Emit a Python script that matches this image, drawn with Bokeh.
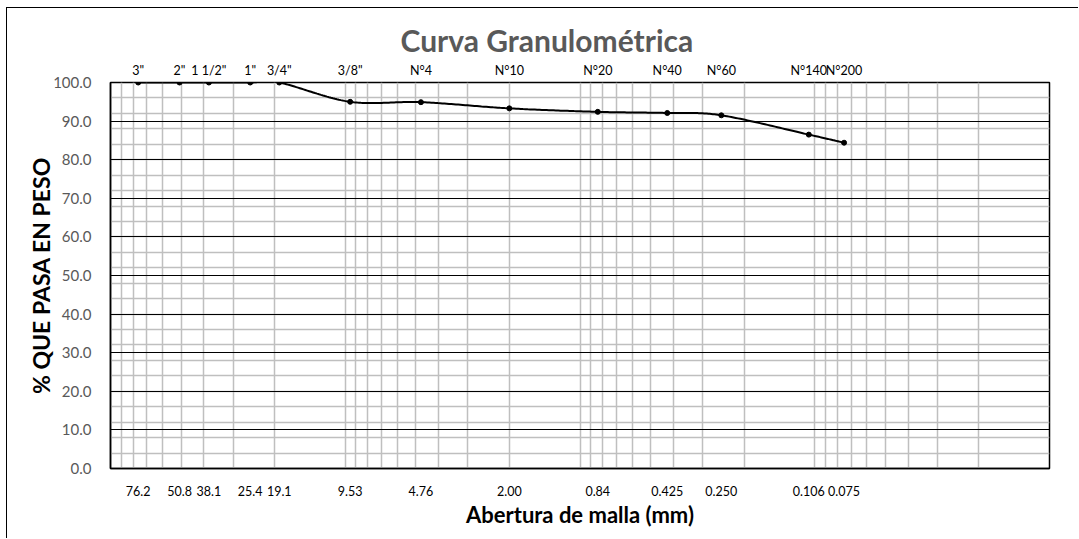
import numpy as np
from bokeh.plotting import figure
from bokeh.models import Range1d, FixedTicker, LogAxis, Grid, NumeralTickFormatter
from bokeh.embed import file_html
from bokeh.resources import INLINE

# ---- data ----
sieve_names = ['3"', '2"', '1 1/2"', '1"', '3/4"', '3/8"', 'N°4', 'N°10',
               'N°20', 'N°40', 'N°60', 'N°140', 'N°200']
opening_mm = [76.2, 50.8, 38.1, 25.4, 19.1, 9.53, 4.76, 2.00,
              0.84, 0.425, 0.250, 0.106, 0.075]
opening_labels = ["76.2", "50.8", "38.1", "25.4", "19.1", "9.53", "4.76", "2.00",
                  "0.84", "0.425", "0.250", "0.106", "0.075"]
percent_passing = [100.0, 100.0, 100.0, 100.0, 100.0, 95.0, 94.9, 93.3,
                   92.4, 92.1, 91.5, 86.5, 84.4]
y_ticks = [0, 10, 20, 30, 40, 50, 60, 70, 80, 90, 100]
y_minor = [4 * k for k in range(1, 25)]
x_grid = [n * 10.0 ** k for k in range(-2, 2) for n in range(1, 10)]

FONT = "Lato"


def smooth(xs, ys, n=40):
    """Excel-like smoothed line (Catmull-Rom Bezier) in log-x space."""
    P = np.column_stack([np.log10(xs), np.asarray(ys, float)])
    segs = []
    for i in range(len(P) - 1):
        p0 = P[i - 1] if i > 0 else P[i]
        p1, p2 = P[i], P[i + 1]
        p3 = P[i + 2] if i + 2 < len(P) else P[i + 1]
        c1 = p1 + (p2 - p0) / 6.0
        c2 = p2 - (p3 - p1) / 6.0
        t = np.linspace(0, 1, n)[:, None]
        b = (1 - t) ** 3 * p1 + 3 * (1 - t) ** 2 * t * c1 + 3 * (1 - t) * t ** 2 * c2 + t ** 3 * p2
        segs.append(b if i == 0 else b[1:])
    B = np.vstack(segs)
    return 10 ** B[:, 0], B[:, 1]


p = figure(width=1072, height=531, x_axis_type="log",
           x_range=Range1d(100, 0.01), y_range=Range1d(0, 100),
           output_backend="svg", toolbar_location=None,
           min_border_left=103, min_border_right=30,
           min_border_top=74, min_border_bottom=71)
p.background_fill_color = "white"
p.border_fill_color = "white"
p.outline_line_color = "black"
p.outline_line_width = 1.5
p.styles = {"margin-left": "6px", "margin-top": "7px",
            "border-left": "1px solid black", "border-top": "1px solid black"}

# title
p.title.text = "Curva Granulométrica"
p.title.align = "left"
p.title.offset = 290
p.title.text_font = FONT
p.title.text_font_size = "30px"
p.title.text_font_style = "bold"
p.title.text_color = "#595959"
p.title.standoff = 4

# grids
p.xgrid.ticker = FixedTicker(ticks=x_grid)
p.xgrid.grid_line_color = "#BFBFBF"
p.xgrid.grid_line_width = 1.5
p.ygrid.ticker = FixedTicker(ticks=y_minor)
p.ygrid.grid_line_color = "#BFBFBF"
p.ygrid.grid_line_width = 1.5
major_grid = Grid(dimension=1, ticker=FixedTicker(ticks=y_ticks[1:-1]),
                  grid_line_color="black", grid_line_width=1)
p.add_layout(major_grid)

# y axis
ya = p.yaxis[0]
ya.ticker = FixedTicker(ticks=y_ticks)
ya.formatter = NumeralTickFormatter(format="0.0")
ya.major_label_text_font = FONT
ya.major_label_text_font_size = "15px"
ya.major_label_text_color = "#595959"
ya.major_tick_line_color = None
ya.minor_tick_line_color = None
ya.axis_line_color = "black"
ya.axis_line_width = 1.5
ya.major_label_standoff = 13
ya.axis_label = "% QUE PASA EN PESO"
ya.axis_label_text_font = FONT
ya.axis_label_text_font_size = "23px"
ya.axis_label_text_font_style = "bold"
ya.axis_label_text_color = "black"
ya.axis_label_standoff = -5

# bottom axis: openings
xa = p.xaxis[0]
xa.ticker = FixedTicker(ticks=opening_mm)
xa.major_label_overrides = dict(zip(opening_mm, opening_labels))
xa.major_label_text_font = FONT
xa.major_label_text_font_size = "12.5px"
xa.major_label_text_color = "black"
xa.major_tick_line_color = None
xa.minor_tick_line_color = None
xa.axis_line_color = "black"
xa.axis_line_width = 1.5
xa.major_label_standoff = 11
xa.axis_label = "Abertura de malla (mm)"
xa.axis_label_text_font = FONT
xa.axis_label_text_font_size = "22px"
xa.axis_label_text_font_style = "bold"
xa.axis_label_text_color = "black"
xa.axis_label_standoff = 2

# top axis: sieve names
ta = LogAxis(ticker=FixedTicker(ticks=opening_mm),
             major_label_overrides=dict(zip(opening_mm, sieve_names)))
ta.major_label_text_font = FONT
ta.major_label_text_font_size = "12.5px"
ta.major_label_text_color = "black"
ta.major_tick_line_color = None
ta.minor_tick_line_color = None
ta.axis_line_color = None
ta.major_label_standoff = -1
p.add_layout(ta, "above")

# curve
sx, sy = smooth(opening_mm, percent_passing)
p.line(sx, sy, line_color="black", line_width=2)
p.scatter(opening_mm, percent_passing, marker="circle", size=5,
          fill_color="black", line_color="black")

open("out.html", "w").write(file_html(p, INLINE))
